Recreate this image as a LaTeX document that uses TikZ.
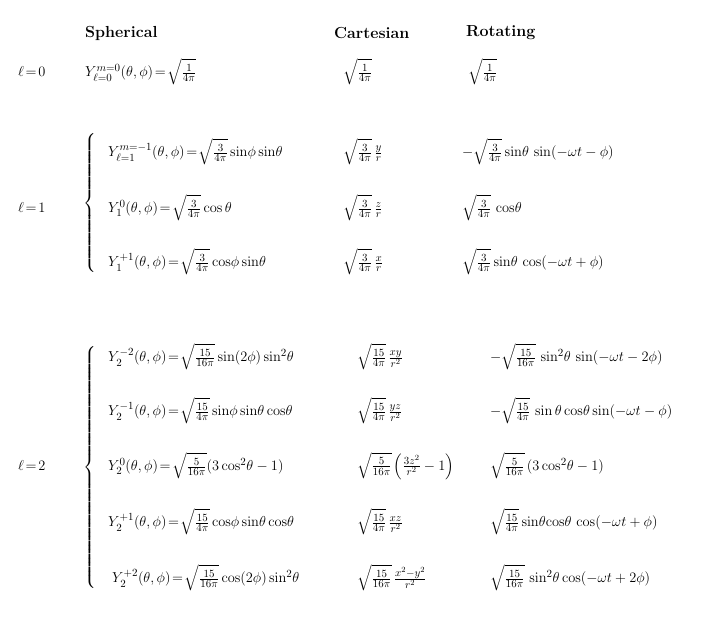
\documentclass[tikz,border=0pt]{standalone}
\usepackage{amsmath}
\begin{document}
\begin{tikzpicture}[x=1pt,y=-1pt,every node/.style={anchor=west,inner sep=0pt,font=\fontsize{15.5}{18}\selectfont},
  hdr/.style={anchor=west,font=\fontsize{16}{19}\selectfont\bfseries}]
\useasboundingbox (0,0) rectangle (721,628);
\thickmuskip=2mu
% headers
\node[hdr] (h1) at (85,33) {Spherical};
\node[hdr] (h2) at (334,33) {Cartesian};
\node[hdr] (h3) at (466,33) {Rotating};
% l=0
\node (l0) at (18,72) {$\ell=0$};
\node (s00) at (85,72) {$Y_{\ell=0}^{m=0}(\theta,\phi)=\sqrt{\frac{1}{4\pi}}$};
\node (c00) at (343,72) {$\sqrt{\frac{1}{4\pi}}$};
\node (r00) at (468,72) {$\sqrt{\frac{1}{4\pi}}$};
% l=1
\node (l1) at (18,208) {$\ell=1$};
\node[anchor=center] (b1) at (90,203) {$\left\{\rule{0pt}{72pt}\right.$};
\node (s1m1) at (108,152) {$Y_{\ell=1}^{m=-1}(\theta,\phi)=\sqrt{\frac{3}{4\pi}}\sin\!\phi\sin\!\theta$};
\node (c1m1) at (343,152) {$\sqrt{\frac{3}{4\pi}}\,\frac{y}{r}$};
\node (r1m1) at (462,152) {$-\sqrt{\frac{3}{4\pi}}\sin\!\theta\,\sin(-\omega t-\phi)$};
\node (s10) at (108,208) {$Y_{1}^{0}(\theta,\phi)=\sqrt{\frac{3}{4\pi}}\cos\theta$};
\node (c10) at (343,208) {$\sqrt{\frac{3}{4\pi}}\,\frac{z}{r}$};
\node (r10) at (462,208) {$\sqrt{\frac{3}{4\pi}}\,\cos\!\theta$};
\node (s1p1) at (108,262) {$Y_{1}^{+1}(\theta,\phi)=\sqrt{\frac{3}{4\pi}}\cos\!\phi\sin\!\theta$};
\node (c1p1) at (343,262) {$\sqrt{\frac{3}{4\pi}}\,\frac{x}{r}$};
\node (r1p1) at (462,262) {$\sqrt{\frac{3}{4\pi}}\sin\!\theta\,\cos(-\omega t+\phi)$};
% l=2
\node (l2) at (18,466) {$\ell=2$};
\node[anchor=center] (b2) at (90,467) {$\left\{\rule{0pt}{126pt}\right.$};
\node (s2m2) at (108,357) {$Y_{2}^{-2}(\theta,\phi)=\sqrt{\frac{15}{16\pi}}\sin(2\phi)\sin^2\!\theta$};
\node (c2m2) at (357,357) {$\sqrt{\frac{15}{4\pi}}\,\frac{xy}{r^2}$};
\node (r2m2) at (490,357) {$-\sqrt{\frac{15}{16\pi}}\,\sin^2\!\theta\,\sin(-\omega t-2\phi)$};
\node (s2m1) at (108,411) {$Y_{2}^{-1}(\theta,\phi)=\sqrt{\frac{15}{4\pi}}\sin\!\phi\sin\!\theta\cos\!\theta$};
\node (c2m1) at (357,411) {$\sqrt{\frac{15}{4\pi}}\,\frac{yz}{r^2}$};
\node (r2m1) at (490,411) {$-\sqrt{\frac{15}{4\pi}}\,\sin\theta\cos\!\theta\sin(-\omega t-\phi)$};
\node (s20) at (108,466) {$Y_{2}^{0}(\theta,\phi)=\sqrt{\frac{5}{16\pi}}(3\cos^2\!\theta-1)$};
\node (c20) at (357,466) {$\sqrt{\frac{5}{16\pi}}\left(\frac{3z^2}{r^2}-1\right)$};
\node (r20) at (490,466) {$\sqrt{\frac{5}{16\pi}}\,(3\cos^2\!\theta-1)$};
\node (s2p1) at (108,522) {$Y_{2}^{+1}(\theta,\phi)=\sqrt{\frac{15}{4\pi}}\cos\!\phi\sin\!\theta\cos\!\theta$};
\node (c2p1) at (357,522) {$\sqrt{\frac{15}{4\pi}}\,\frac{xz}{r^2}$};
\node (r2p1) at (490,522) {$\sqrt{\frac{15}{4\pi}}\sin\!\theta\!\cos\!\theta\,\cos(-\omega t+\phi)$};
\node (s2p2) at (112,578) {$Y_{2}^{+2}(\theta,\phi)=\sqrt{\frac{15}{16\pi}}\cos(2\phi)\sin^2\!\theta$};
\node (c2p2) at (357,578) {$\sqrt{\frac{15}{16\pi}}\,\frac{x^2-y^2}{r^2}$};
\node (r2p2) at (490,578) {$\sqrt{\frac{15}{16\pi}}\,\sin^2\!\theta\cos(-\omega t+2\phi)$};
\end{tikzpicture}
\end{document}
